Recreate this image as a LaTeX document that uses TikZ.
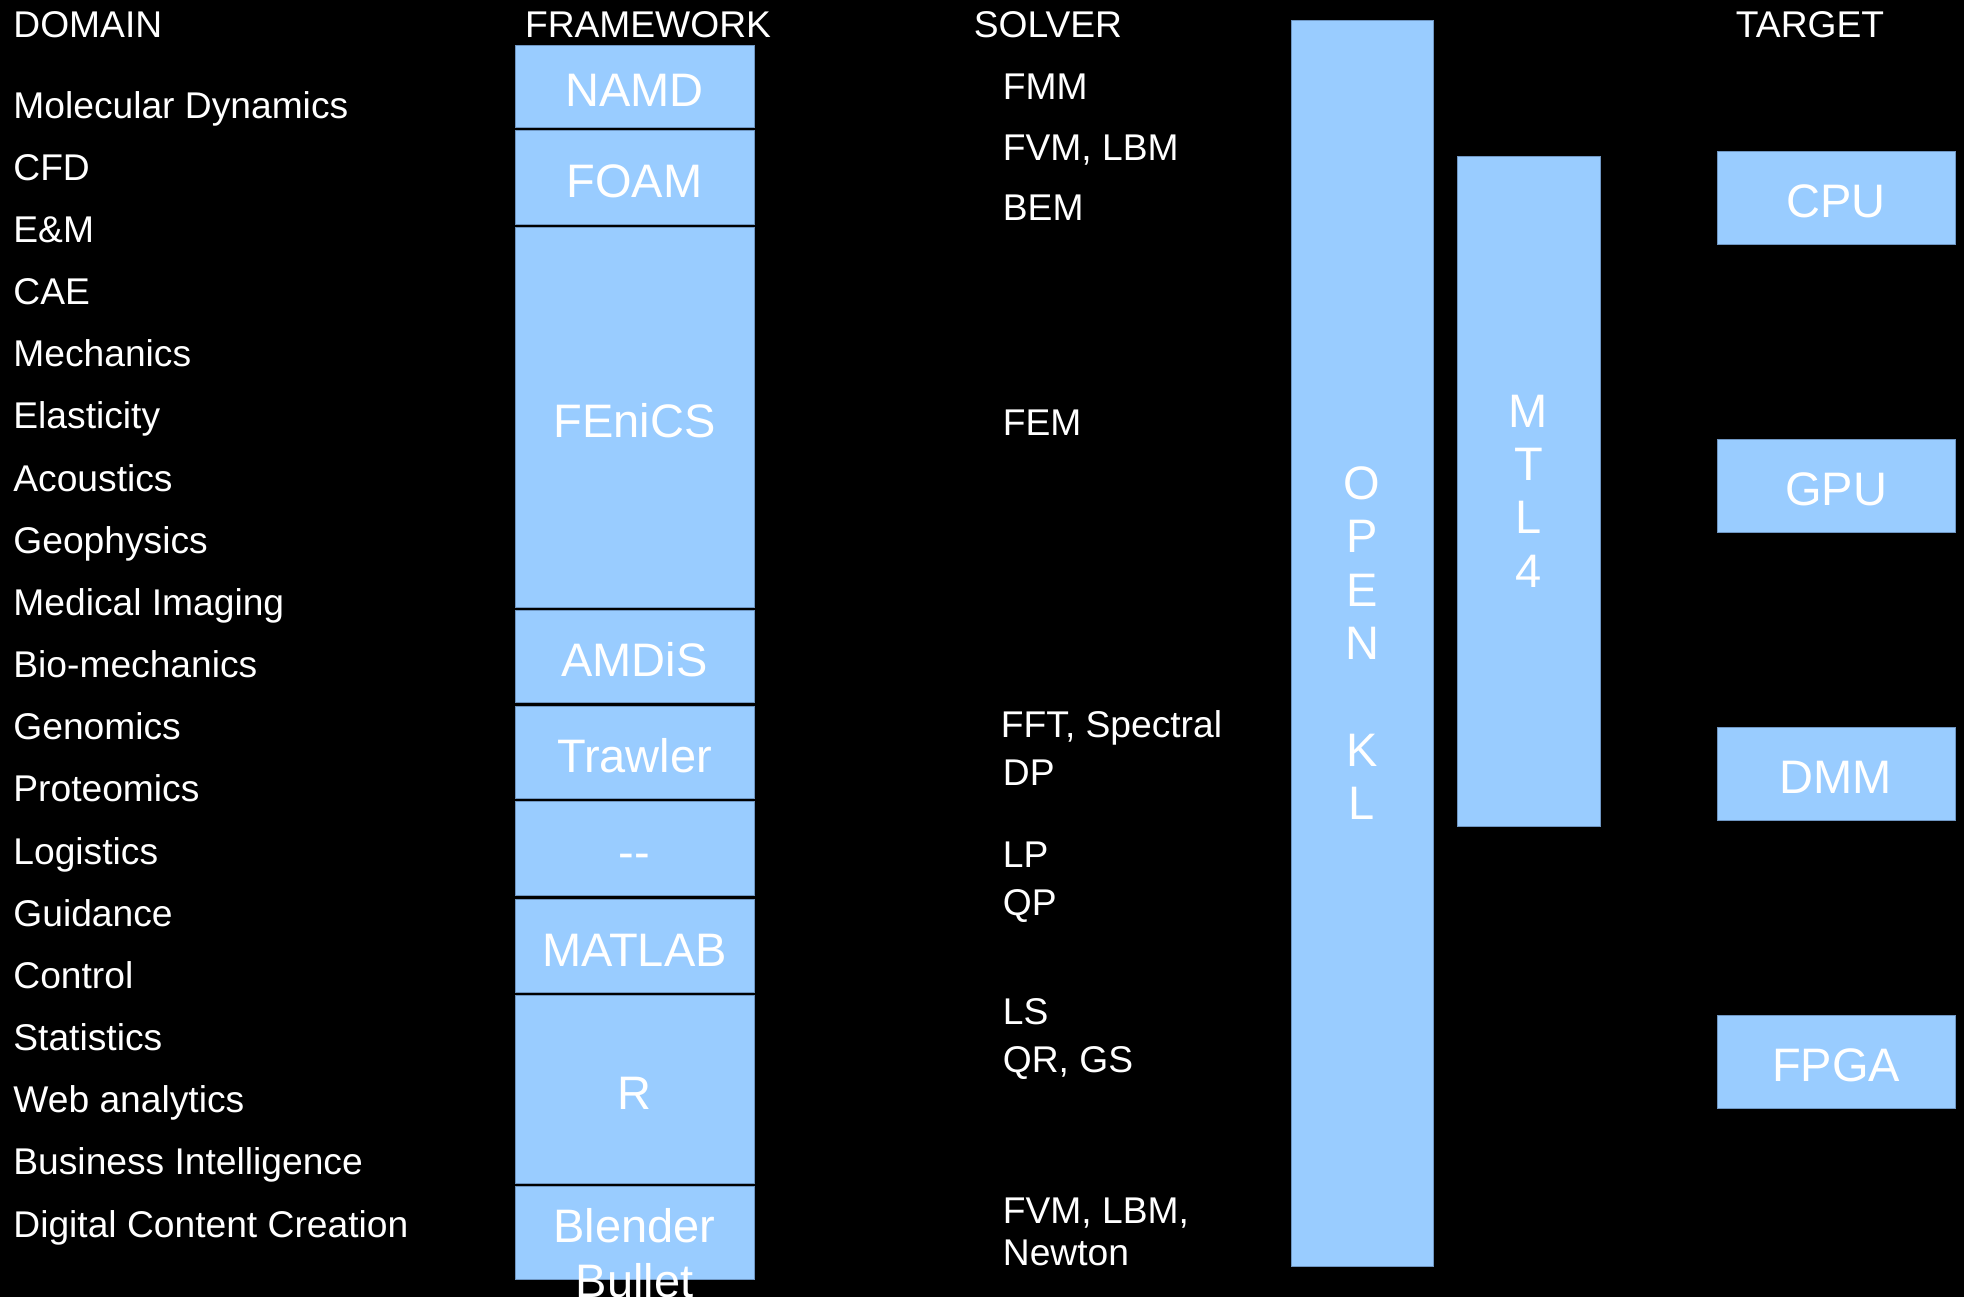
\documentclass[tikz,border=0pt]{standalone}
\usepackage{fontspec}
\setmainfont{Liberation Sans}
\usetikzlibrary{positioning}
\definecolor{skyblue}{HTML}{99CCFF}
\definecolor{edgeblue}{HTML}{6F96C2}
\tikzset{
  hdr/.style={text=white,font=\fontsize{18.6}{22}\selectfont,inner sep=0pt},
  item/.style={hdr,anchor=base west},
  blk/.style={rectangle,fill=skyblue,draw=edgeblue,line width=0.5pt,text=white,font=\fontsize{23.5}{26.7}\selectfont,align=center,inner sep=0pt},
  fwbox/.style={blk,minimum width=119.5pt,text height=20pt,text depth=0pt},
  tgbox/.style={blk,minimum width=119pt,minimum height=46.5pt,text height=19.5pt,text depth=0pt},
  boxtext/.style={text=white,font=\fontsize{23.5}{27.5}\selectfont,align=center,inner sep=0pt}
}

\begin{document}
\begin{tikzpicture}[x=0.5pt,y=-0.5pt]
  \useasboundingbox (0,0) rectangle (1964,1297);
  \fill[black] (0,0) rectangle (1964,1297);
  \clip (0,0) rectangle (1964,1297);

  % column heads
  \node[item] (h-domain) at (13,37) {DOMAIN};
  \node[hdr,anchor=base] (h-frame) at (648,37) {FRAMEWORK};
  \node[hdr,anchor=base] (h-solver) at (1048,37) {SOLVER};
  \node[hdr,anchor=base] (h-target) at (1810,37) {TARGET};

  % domains
  \foreach \d [count=\i] in {Molecular Dynamics,CFD,E\&M,CAE,Mechanics,Elasticity,Acoustics,Geophysics,Medical Imaging,Bio-mechanics,Genomics,Proteomics,Logistics,Guidance,Control,Statistics,Web analytics,Business Intelligence,Digital Content Creation}
    \node[item] (dom\i) at (13,{118+62.17*(\i-1)}) {\d};

  % frameworks
  \node[fwbox,minimum height=41pt] (namd) at (634.5,86.5) {NAMD};
  \node[fwbox,minimum height=47pt] (foam) at (634.5,177.5) {FOAM};
  \node[fwbox,minimum height=190pt] (fenics) at (634.5,417.5) {FEniCS};
  \node[fwbox,minimum height=46pt] (amdis) at (634.5,656.5) {AMDiS};
  \node[fwbox,minimum height=46pt] (trawler) at (634.5,752.5) {Trawler};
  \node[fwbox,minimum height=47pt] (nofw) at (634.5,848.5) {-{}-};
  \node[fwbox,minimum height=46.5pt] (matlab) at (634.5,946) {MATLAB};
  \node[fwbox,minimum height=94pt] (rlang) at (634.5,1089.5) {R};
  \node[fwbox,minimum height=46.5pt] (blender) at (634.5,1233) {};
  \node[boxtext,anchor=north] (blendertxt) at (634.5,1208) {Blender\\Bullet};

  % solvers
  \node[item] (fmm) at (1002.5,99) {FMM};
  \node[item] (fvm) at (1002.5,160) {FVM, LBM};
  \node[item] (bem) at (1002.5,220) {BEM};
  \node[item] (fem) at (1002.5,435) {FEM};
  \node[item] (fft) at (1000.5,737) {FFT, Spectral};
  \node[item] (dp) at (1002.5,785) {DP};
  \node[item] (lp) at (1002.5,867) {LP};
  \node[item] (qp) at (1002.5,915) {QP};
  \node[item] (ls) at (1002.5,1024) {LS};
  \node[item] (qr) at (1002.5,1072) {QR, GS};
  \node[item] (fvm2) at (1002.5,1223) {FVM, LBM,};
  \node[item] (newton) at (1002.5,1265) {Newton};

  % libraries
  \node[blk,minimum width=71pt,minimum height=623pt] (openkl) at (1362,643) {O\\P\\E\\N\\[26.7pt]K\\L};
  \node[blk,minimum width=71.5pt,minimum height=335pt] (mtl) at (1528.5,491) {M\\T\\L\\4};

  % targets
  \foreach \t [count=\i] in {CPU,GPU,DMM,FPGA}
    \node[tgbox] (tg-\t) at (1836,{198+288*(\i-1)}) {\t};
\end{tikzpicture}
\end{document}
